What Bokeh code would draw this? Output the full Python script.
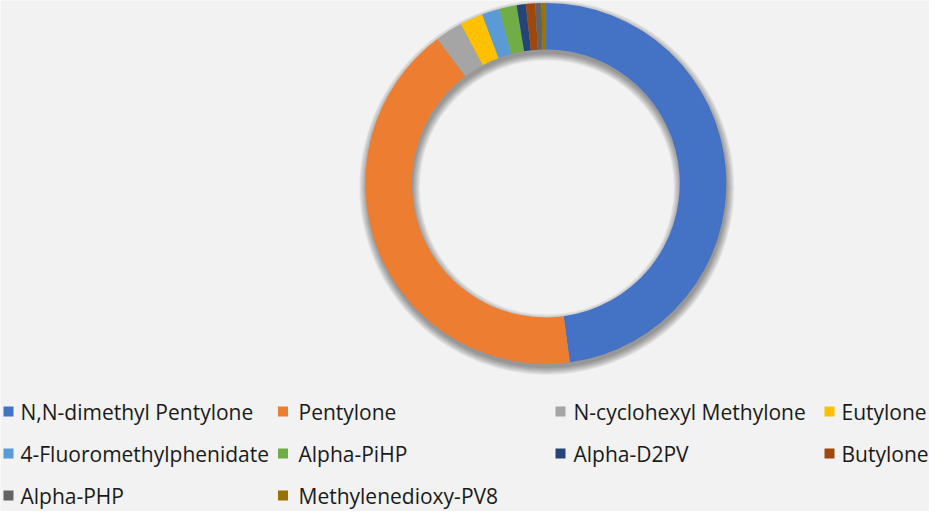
import math
from bokeh.plotting import figure
from bokeh.models import Range1d, ColumnDataSource
from bokeh.core.properties import value
from bokeh.embed import file_html
from bokeh.resources import INLINE

# ---- data ----
categories = ["N,N-dimethyl Pentylone", "Pentylone", "N-cyclohexyl Methylone", "Eutylone",
              "4-Fluoromethylphenidate", "Alpha-PiHP", "Alpha-D2PV", "Butylone",
              "Alpha-PHP", "Methylenedioxy-PV8"]
shares = [47.9, 41.9, 2.46, 2.07, 1.58, 1.56, 0.82, 0.83, 0.56, 0.38]
colors = ["#4472C4", "#ED7D31", "#A5A5A5", "#FFC000", "#5B9BD5", "#70AD47",
          "#264478", "#9E480E", "#636363", "#997300"]

W, H = 929, 511
BG = "#F2F2F2"

p = figure(width=W, height=H, output_backend="svg", toolbar_location=None,
           x_range=Range1d(0, W), y_range=Range1d(0, H), min_border=0,
           background_fill_color=BG, border_fill_color=BG, outline_line_color=None)
p.axis.visible = False
p.grid.visible = False

cx, cy = 545.3, 328.1
r_out, r_in = 180.5, 134

# soft drop shadow
for k in range(8):
    p.annulus(x=[cx + 1], y=[cy - 4], inner_radius=r_in - k, outer_radius=r_out + k,
              fill_color="#000000", fill_alpha=0.055, line_color=None)

total = sum(shares)
starts, ends = [], []
cum = 0.0
for s in shares:
    starts.append(math.pi / 2 - 2 * math.pi * cum / total)
    cum += s
    ends.append(math.pi / 2 - 2 * math.pi * cum / total)

src = ColumnDataSource(dict(start=starts, end=ends, color=colors, cat=categories))
p.annular_wedge(x=cx, y=cy, inner_radius=r_in, outer_radius=r_out,
                start_angle="start", end_angle="end", direction="clock",
                fill_color="color", line_color=None, source=src)

# legend (4 columns, 3 rows)
col_sq_x = [8, 282.5, 560, 829]
col_tx_x = [20, 298, 573, 841]
row_y = [100, 58, 16]
lx, ly, tx, cols = [], [], [], []
for i, (c, col) in enumerate(zip(categories, colors)):
    r, k = divmod(i, 4)
    lx.append(col_sq_x[k]); ly.append(row_y[r]); tx.append(col_tx_x[k]); cols.append(col)
lsrc = ColumnDataSource(dict(x=lx, y=ly, tx=tx, color=cols, label=categories))
p.rect(x="x", y="y", width=10, height=10, fill_color="color", line_color=None, source=lsrc)
p.text(x="tx", y="y", text="label", source=lsrc, text_font=value("Open Sans"),
       text_font_size="21px", text_color="#1a1a1a", text_baseline="middle", text_align="left")

open("out.html", "w").write(file_html(p, INLINE))
